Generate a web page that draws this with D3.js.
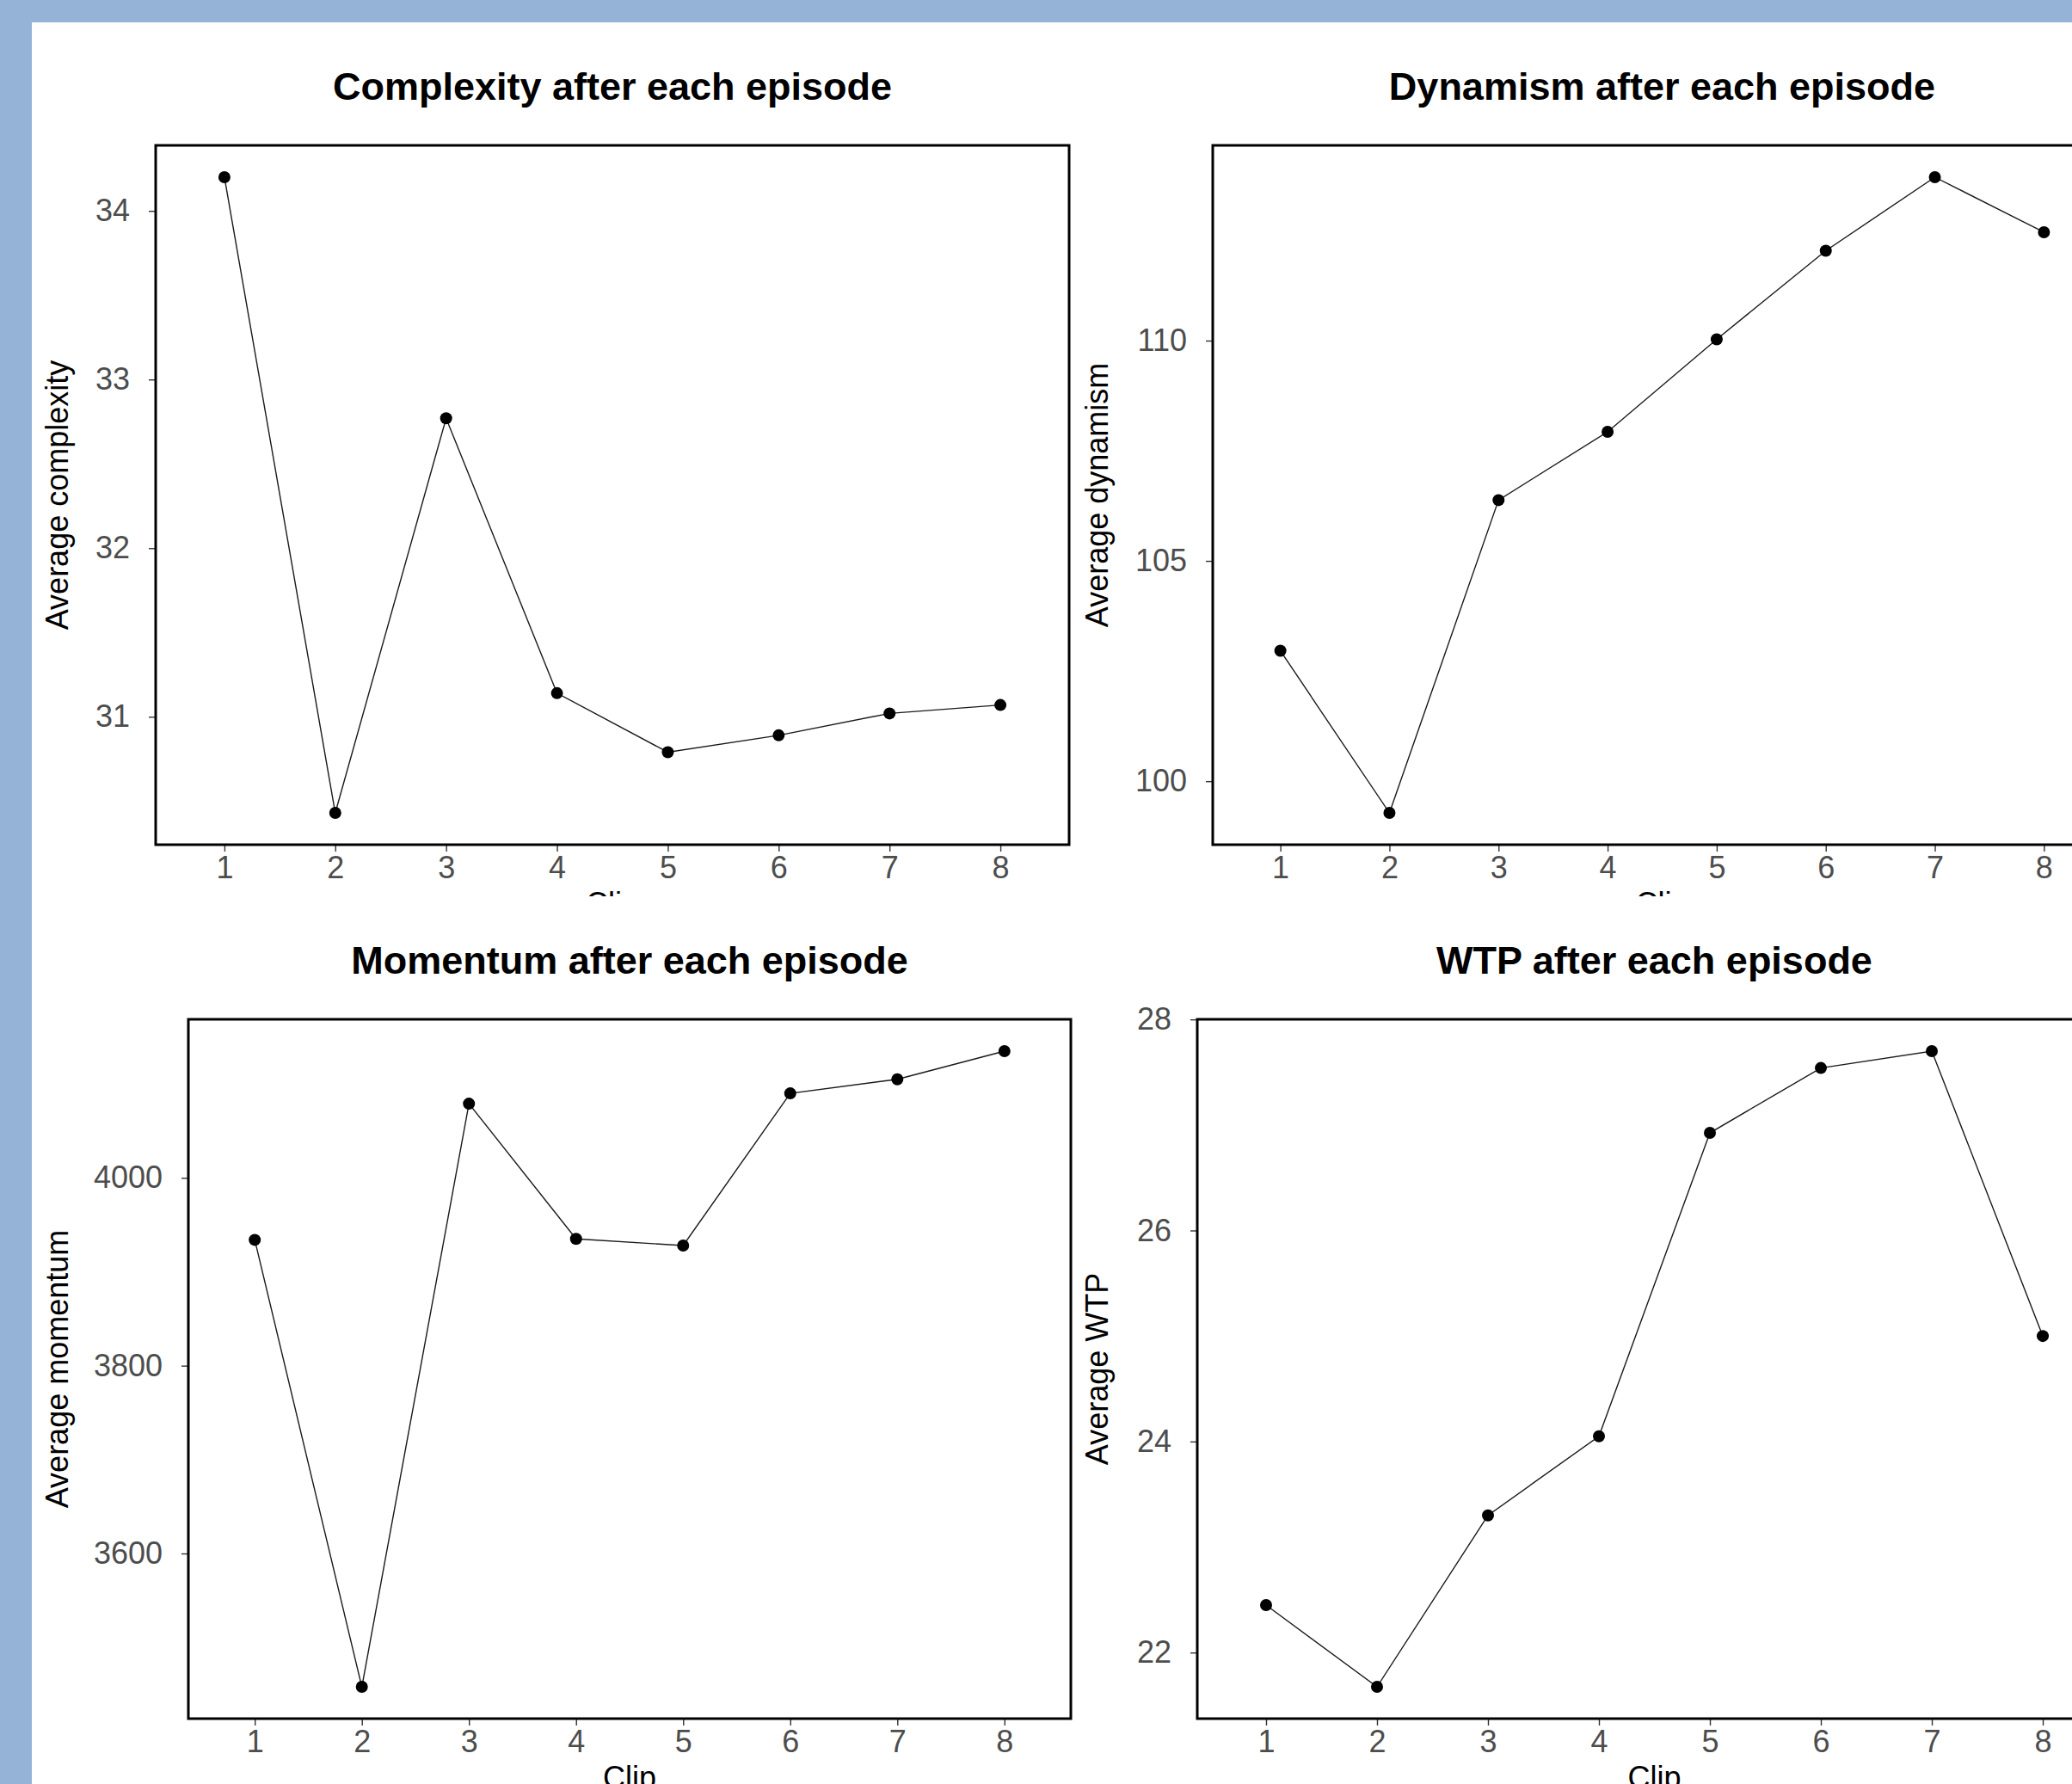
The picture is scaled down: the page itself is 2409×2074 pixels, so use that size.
<!DOCTYPE html>
<html>
<head>
<meta charset="utf-8">
<script src="https://cdnjs.cloudflare.com/ajax/libs/d3/7.8.5/d3.min.js"></script>
<style>
  body { margin: 0; background: #95B3D7; }
  svg { display: block; }
</style>
</head>
<body>
<svg id="chart"></svg>
<script>
//////////////////////////////////////////////////////////////////////////////
// data - values
//////////////////////////////////////////////////////////////////////////////
var clips = [1, 2, 3, 4, 5, 6, 7, 8];

var complexity = [34.20, 30.43, 32.77, 31.14, 30.79, 30.89, 31.02, 31.07];
var dynamism   = [102.96, 99.28, 106.38, 107.93, 110.03, 112.04, 113.71, 112.46];
var momentum   = [3934, 3458, 4079, 3935, 3928, 4090, 4105, 4135];
var wtp        = [22.45, 21.675, 23.3, 24.05, 26.925, 27.54, 27.7, 25.0];

var complexityTicks = [31, 32, 33, 34];
var dynamismTicks   = [100, 105, 110];
var momentumTicks   = [3600, 3800, 4000];
var wtpTicks        = [22, 24, 26, 28];

var titles = ["Complexity after each episode", "Dynamism after each episode",
              "Momentum after each episode", "WTP after each episode"];
var yLabels = ["Average complexity", "Average dynamism", "Average momentum", "Average WTP"];
var xLabel = "Clip";

//////////////////////////////////////////////////////////////////////////////
// page
//////////////////////////////////////////////////////////////////////////////
var width = 2409, height = 2074;
var font = "'Liberation Sans', Arial, sans-serif";

var svg = d3.select('#chart')
  .attr('width', width)
  .attr('height', height);

svg.append('rect')
  .attr('width', width).attr('height', height)
  .attr('fill', '#95B3D7');

// the picture is two screenshots stacked, the top one cut off at the "Clip" label
var sheets = [
  {id: 'topSheet', x: 37, y: 26, w: width - 37, h: 1016},
  {id: 'botSheet', x: 37, y: 1042, w: width - 37, h: height - 1042}
];
var defs = svg.append('defs');
sheets.forEach(function(s) {
  defs.append('clipPath').attr('id', s.id)
    .append('rect').attr('x', s.x).attr('y', s.y).attr('width', s.w).attr('height', s.h);
});
var sheetG = sheets.map(function(s) {
  var g = svg.append('g').attr('clip-path', 'url(#' + s.id + ')');
  g.append('rect').attr('x', s.x).attr('y', s.y).attr('width', s.w).attr('height', s.h)
    .attr('fill', 'white');
  return g;
});

// panel boxes (plot area), in page pixels
var panels = [
  {sheet: 0, box: {left: 181, right: 1243, top: 169, bottom: 982}, values: complexity, ticks: complexityTicks, labX: 66},
  {sheet: 0, box: {left: 1410, right: 2455, top: 169, bottom: 982}, values: dynamism, ticks: dynamismTicks, labX: 1275},
  {sheet: 1, box: {left: 219, right: 1245, top: 1185, bottom: 1998}, values: momentum, ticks: momentumTicks, labX: 66},
  {sheet: 1, box: {left: 1392, right: 2455, top: 1185, bottom: 1998}, values: wtp, ticks: wtpTicks, labX: 1275}
];

panels.forEach(function(p, k) {
  var g = sheetG[p.sheet];
  var b = p.box;

  // discrete-looking x axis: 0.62 clip padding each side
  var xScale = d3.scaleLinear()
    .domain([0.38, 8.62])
    .range([b.left, b.right]);

  // y with ggplot's 5% expansion
  var ext = d3.extent(p.values);
  var pad = (ext[1] - ext[0]) * 0.05;
  var yScale = d3.scaleLinear()
    .domain([ext[0] - pad, ext[1] + pad])
    .range([b.bottom, b.top]);

  // X axis
  var xAx = g.append('g')
    .attr('transform', 'translate(0,' + b.bottom + ')')
    .call(d3.axisBottom(xScale).tickValues(clips).tickSize(8).tickPadding(5).tickFormat(d3.format('d')));

  // Y axis
  var yAx = g.append('g')
    .attr('transform', 'translate(' + b.left + ',0)')
    .call(d3.axisLeft(yScale).tickValues(p.ticks).tickSize(8).tickPadding(22).tickFormat(d3.format('d')));

  [xAx, yAx].forEach(function(ax) {
    ax.select('.domain').remove();
    ax.attr('font-family', font).attr('font-size', 36);
    ax.selectAll('line').attr('stroke', '#333333').attr('stroke-width', 1.4);
    ax.selectAll('text').attr('fill', '#4D4D4D');
  });

  // line + points
  var line = d3.line()
    .x(function(d, i) { return xScale(clips[i]); })
    .y(function(d) { return yScale(d); });

  g.append('path')
    .datum(p.values)
    .attr('d', line)
    .attr('fill', 'none')
    .attr('stroke', '#1a1a1a')
    .attr('stroke-width', 1.4);

  g.selectAll(null)
    .data(p.values)
    .enter()
    .append('circle')
    .attr('cx', function(d, i) { return xScale(clips[i]); })
    .attr('cy', function(d) { return yScale(d); })
    .attr('r', 7)
    .attr('fill', '#000');

  // panel border
  g.append('rect')
    .attr('x', b.left).attr('y', b.top)
    .attr('width', b.right - b.left).attr('height', b.bottom - b.top)
    .attr('fill', 'none')
    .attr('stroke', '#000')
    .attr('stroke-width', 3);

  // title
  g.append('text')
    .attr('x', (b.left + b.right) / 2)
    .attr('y', b.top - 53)
    .attr('text-anchor', 'middle')
    .attr('font-family', font)
    .attr('font-weight', 'bold')
    .attr('font-size', 45)
    .attr('fill', '#000')
    .text(titles[k]);

  // x label (cut off by the sheet edge, as in the source)
  g.append('text')
    .attr('x', (b.left + b.right) / 2)
    .attr('y', b.bottom + 81)
    .attr('text-anchor', 'middle')
    .attr('font-family', font)
    .attr('font-size', 36)
    .attr('fill', '#000')
    .text(xLabel);

  // y label
  g.append('text')
    .attr('transform', 'translate(' + p.labX + ',' + ((b.top + b.bottom) / 2) + ') rotate(-90)')
    .attr('dy', '0.35em')
    .attr('text-anchor', 'middle')
    .attr('font-family', font)
    .attr('font-size', 36)
    .attr('fill', '#000')
    .text(yLabels[k]);
});
</script>
</body>
</html>
